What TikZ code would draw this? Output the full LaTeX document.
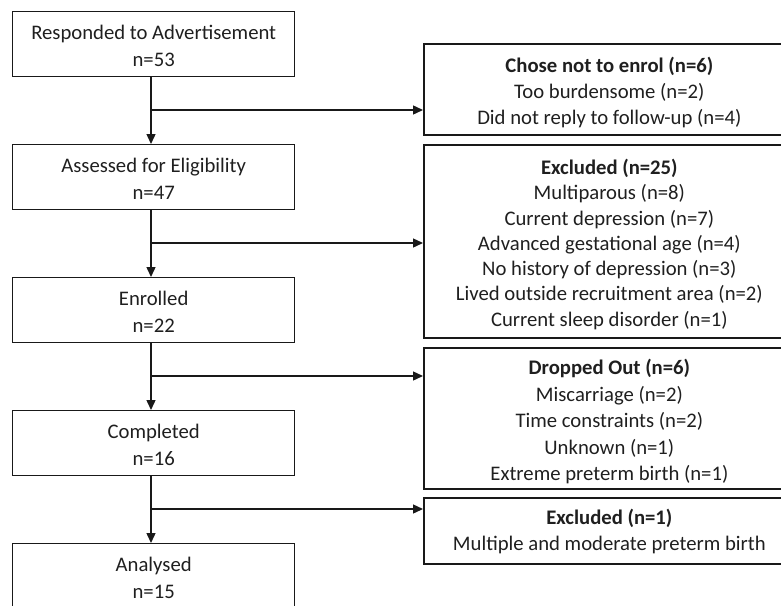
\documentclass[tikz,border=0pt]{standalone}
\usepackage{fontspec}
\setmainfont{Carlito}
\usetikzlibrary{arrows.meta}
\begin{document}
\begin{tikzpicture}[x=1pt, y=-1pt,
  frame/.style={draw=black!90, inner sep=0pt, anchor=north west},
  stage/.style={frame, line width=1.4pt, minimum width=282pt, minimum height=65pt},
  reason/.style={frame, line width=1.7pt, minimum width=371pt},
  txt/.style={align=center, inner sep=0pt, text=black!88,
              font=\fontsize{20.7}{#1}\selectfont},
  txt/.default=26,
  flow/.style={line width=1.4pt, draw=black!90},
  arr/.style={flow, -{Triangle[length=10pt,width=9pt]}},
]
\useasboundingbox (0,0) rectangle (781,605);
\clip (0,0) rectangle (781,605);

% main flow boxes
\node[stage] (resp) at (12,11)  {};
\node[stage] (elig) at (12,144) {};
\node[stage] (enr)  at (12,277) {};
\node[stage] (comp) at (12,410) {};
\node[stage] (anal) at (12,543) {};
\node[txt=27] (resp-t) at ([yshift=-2pt]resp.center) {Responded to Advertisement\\n=53};
\node[txt=27] (elig-t) at ([yshift=-2pt]elig.center) {Assessed for Eligibility\\n=47};
\node[txt=27] (enr-t)  at ([yshift=-2pt]enr.center)  {Enrolled\\n=22};
\node[txt=27] (comp-t) at ([yshift=-2pt]comp.center) {Completed\\n=16};
\node[txt=27] (anal-t) at ([yshift=-2pt]anal.center) {Analysed\\n=15};

% side boxes
\node[reason, minimum height=91pt]  (notenr) at (423,43)  {};
\node[reason, minimum height=193pt] (excl)   at (423,144) {};
\node[reason, minimum height=141pt] (drop)   at (423,347) {};
\node[reason, minimum height=66pt]  (excl2)  at (423,497) {};
\node[txt] (notenr-t) at ([yshift=-3pt]notenr.center)
  {\textbf{Chose not to enrol (n=6)}\\Too burdensome (n=2)\\Did not reply to follow-up (n=4)};
\node[txt=25.3] (excl-t) at ([yshift=-3pt]excl.center)
  {\textbf{Excluded (n=25)}\\Multiparous (n=8)\\Current depression (n=7)\\Advanced gestational age (n=4)\\No history of depression (n=3)\\Lived outside recruitment area (n=2)\\Current sleep disorder (n=1)};
\node[txt=26.5] (drop-t) at ([yshift=-3.5pt]drop.center)
  {\textbf{Dropped Out (n=6)}\\Miscarriage (n=2)\\Time constraints (n=2)\\Unknown (n=1)\\Extreme preterm birth (n=1)};
\node[txt] (excl2-t) at ([yshift=-1pt]excl2.center)
  {\textbf{Excluded (n=1)}\\Multiple and moderate preterm birth};

% branch points on the main line
\coordinate (j1) at (151,110);
\coordinate (j2) at (151,243);
\coordinate (j3) at (151,376);
\coordinate (j4) at (151,509);

% vertical arrows
\draw[arr] (resp.south -| j1) -- (elig.north -| j1);
\draw[arr] (elig.south -| j2) -- (enr.north -| j2);
\draw[arr] (enr.south -| j3) -- (comp.north -| j3);
\draw[arr] (comp.south -| j4) -- (anal.north -| j4);

% side arrows
\draw[arr] (j1) -- (j1 -| notenr.west);
\draw[arr] (j2) -- (j2 -| excl.west);
\draw[arr] (j3) -- (j3 -| drop.west);
\draw[arr] (j4) -- (j4 -| excl2.west);
\end{tikzpicture}
\end{document}
